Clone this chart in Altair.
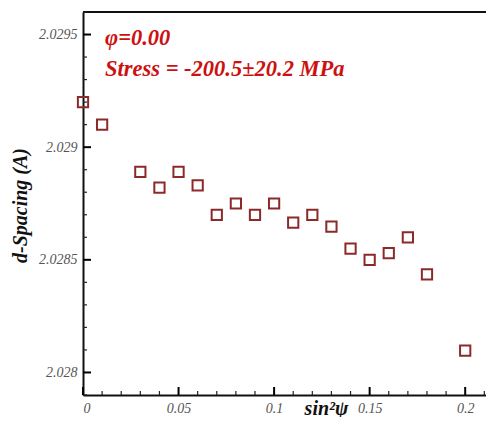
import altair as alt
import pandas as pd

sin2psi = [0.00, 0.01, 0.03, 0.04, 0.05, 0.06, 0.07, 0.08, 0.09, 0.10,
           0.11, 0.12, 0.13, 0.14, 0.15, 0.16, 0.17, 0.18, 0.20]
d_spacing = [2.02920, 2.02910, 2.02889, 2.02882, 2.02889, 2.02883, 2.02870,
             2.02875, 2.02870, 2.02875, 2.028665, 2.02870, 2.028647, 2.02855,
             2.02850, 2.02853, 2.02860, 2.028435, 2.028097]

x_major = [0, 0.05, 0.1, 0.15, 0.2]
y_major = [2.028, 2.0285, 2.029, 2.0295]
x_minor = [round(i * 0.01, 2) for i in range(0, 22) if i % 5 != 0]
y_minor = [round(2.0279 + i * 0.0001, 4) for i in range(0, 18)
           if round(2.0279 + i * 0.0001, 4) not in y_major]

notes = ["φ=0.00", "Stress = -200.5±20.2 MPa"]

df = pd.DataFrame({"x": sin2psi, "y": d_spacing})
notes_df = pd.DataFrame({"t": notes})
xmaj_df = pd.DataFrame({"x": x_major})
xmin_df = pd.DataFrame({"x": x_minor})
ymaj_df = pd.DataFrame({"y": y_major})
ymin_df = pd.DataFrame({"y": y_minor})

W, H = 403, 383
FONT = "Liberation Serif"
INK = "#111111"
xs = alt.Scale(domain=[0, W / 1911.0], nice=False, zero=False)
ys = alt.Scale(domain=[2.0279, 2.0296], nice=False, zero=False)

x_axis = alt.Axis(
    values=x_major, format="~g", ticks=False, labelPadding=6,
    labelFont=FONT, labelFontStyle="italic", labelFontSize=14,
    labelColor="#555555", domainColor=INK, domainWidth=2,
    grid=False, title="sin²ψ", titleFont=FONT, titleFontStyle="italic",
    titleFontWeight="bold", titleFontSize=20, titleColor=INK,
    titleX=243, titleY=19, titleBaseline="alphabetic", titleAlign="center")
y_axis = alt.Axis(
    values=y_major, format="~g", ticks=False, labelPadding=6,
    labelFont=FONT, labelFontStyle="italic", labelFontSize=14,
    labelColor="#555555", domainColor=INK, domainWidth=2,
    grid=False, title="d-Spacing (A)", titleFont=FONT,
    titleFontStyle="italic", titleFontWeight="bold", titleFontSize=20,
    titleColor=INK, titleX=-63, titleY=193,
    titleBaseline="middle", titleAlign="center", titleAngle=270)

pts = alt.Chart(df).mark_point(shape="square", filled=False, size=105,
                               strokeWidth=2, color="#8c2a2a", opacity=1,
                               clip=False).encode(
    x=alt.X("x:Q", scale=xs, axis=x_axis),
    y=alt.Y("y:Q", scale=ys, axis=y_axis),
)

xmaj = alt.Chart(xmaj_df).mark_rule(color="#000000", strokeWidth=2).encode(
    x=alt.X("x:Q", scale=xs, axis=x_axis), y=alt.value(H), y2=alt.value(H - 8))
xmin = alt.Chart(xmin_df).mark_rule(color="#222222", strokeWidth=1.2).encode(
    x=alt.X("x:Q", scale=xs, axis=x_axis), y=alt.value(H), y2=alt.value(H - 4))
ymaj = alt.Chart(ymaj_df).mark_rule(color="#000000", strokeWidth=2).encode(
    y=alt.Y("y:Q", scale=ys, axis=y_axis), x=alt.value(0), x2=alt.value(8))
ymin = alt.Chart(ymin_df).mark_rule(color="#222222", strokeWidth=1.2).encode(
    y=alt.Y("y:Q", scale=ys, axis=y_axis), x=alt.value(0), x2=alt.value(4))

top_line = alt.Chart(notes_df).transform_filter(alt.datum.t == notes[0]).mark_rule(
    color=INK, strokeWidth=2).encode(x=alt.value(0), x2=alt.value(W + 10),
                                     y=alt.value(0))

note1 = alt.Chart(notes_df).transform_filter(alt.datum.t == notes[0]).mark_text(
    align="left", baseline="alphabetic", font=FONT, fontStyle="italic",
    fontWeight="bold", fontSize=22.5, color="#cc1111").encode(
    text="t:N", x=alt.value(22), y=alt.value(33))
note2 = alt.Chart(notes_df).transform_filter(alt.datum.t == notes[1]).mark_text(
    align="left", baseline="alphabetic", font=FONT, fontStyle="italic",
    fontWeight="bold", fontSize=22.5, color="#cc1111").encode(
    text="t:N", x=alt.value(22), y=alt.value(64))

chart = alt.layer(pts, top_line, note1, note2, xmin, ymin, xmaj, ymaj).properties(
    width=W, height=H, autosize=alt.AutoSizeParams(type="none"),
    padding={"left": 75, "top": 4, "right": 0, "bottom": 22},
    background="white").configure_view(stroke=None)

chart.save("out.html", embed_options={"renderer": "svg", "actions": False})
